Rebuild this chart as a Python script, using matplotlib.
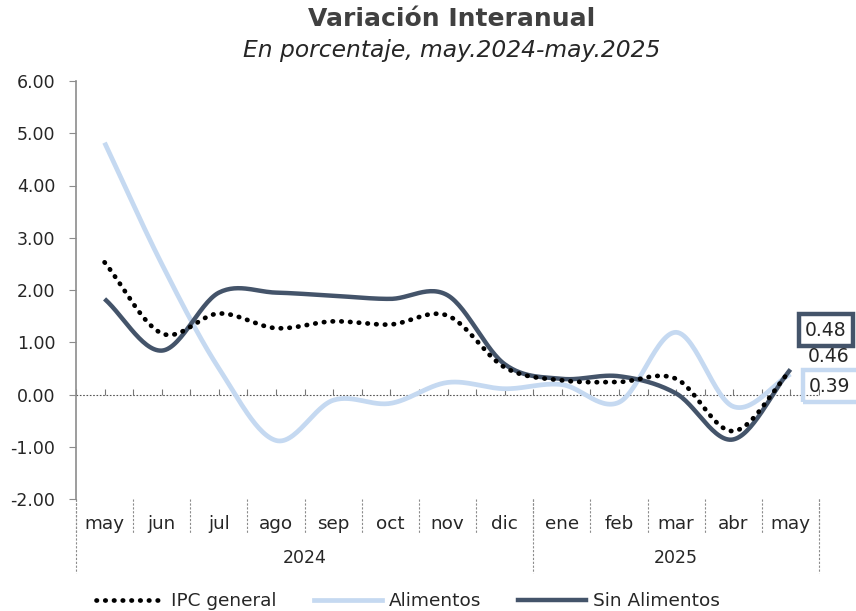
import numpy as np
import matplotlib
matplotlib.use("Agg")
import matplotlib.pyplot as plt
from matplotlib.lines import Line2D

plt.rcParams['font.family'] = ['DejaVu Sans']

# ─── data ──────────────────────────────────────────────────────────────────
months = ['may', 'jun', 'jul', 'ago', 'sep', 'oct', 'nov', 'dic',
          'ene', 'feb', 'mar', 'abr', 'may']
years = ['2024', '2025']
ipc = [2.53, 1.17, 1.55, 1.27, 1.40, 1.34, 1.51, 0.52, 0.27, 0.24, 0.30, -0.70, 0.46]
alimentos = [4.82, 2.50, 0.50, -0.88, -0.11, -0.17, 0.23, 0.11, 0.19, -0.15, 1.19, -0.23, 0.39]
sin_alimentos = [1.83, 0.84, 1.95, 1.95, 1.89, 1.83, 1.90, 0.58, 0.30, 0.35, 0.02, -0.86, 0.48]

DARK = '#44546A'
LIGHT = '#C5D9F1'
GRAY = '#8C8C8C'
TXT = '#262626'
W, H = 856, 611


def smooth(y, n=30):
    # Catmull-Rom curve through the points (like Excel's smoothed lines)
    y = np.asarray(y, float)
    x = np.arange(len(y), dtype=float)
    px = np.concatenate([[2 * x[0] - x[1]], x, [2 * x[-1] - x[-2]]])
    py = np.concatenate([[2 * y[0] - y[1]], y, [2 * y[-1] - y[-2]]])
    xs, ys = [], []
    t = np.linspace(0, 1, n, endpoint=False)
    for i in range(1, len(px) - 2):
        for arr, out in ((px, xs), (py, ys)):
            p0, p1, p2, p3 = arr[i - 1], arr[i], arr[i + 1], arr[i + 2]
            out.append(0.5 * ((2 * p1) + (-p0 + p2) * t
                              + (2 * p0 - 5 * p1 + 4 * p2 - p3) * t ** 2
                              + (-p0 + 3 * p1 - 3 * p2 + p3) * t ** 3))
    xs.append([x[-1]]); ys.append([y[-1]])
    return np.concatenate(xs), np.concatenate(ys)


fig = plt.figure(figsize=(W / 100, H / 100), dpi=100)
ax = fig.add_axes([76 / W, 1 - 499 / H, (819 - 76) / W, (499 - 81) / H])

x, y = smooth(alimentos)
ax.plot(x, y, color=LIGHT, lw=3.4, solid_capstyle='butt', zorder=2)
x, y = smooth(sin_alimentos)
ax.plot(x, y, color=DARK, lw=3.2, solid_capstyle='butt', zorder=3)
x, y = smooth(ipc)
ax.plot(x, y, color='black', lw=3.4, linestyle=(0, (0.1, 1.75)),
        dash_capstyle='round', zorder=4)

ax.set_xlim(-0.5, len(months) - 0.5)
ax.set_ylim(-2, 6)
ax.set_yticks(np.arange(-2, 7, 1))
ax.set_yticklabels([f'{v:.2f}' for v in np.arange(-2, 7, 1)], color=TXT)
ax.tick_params(axis='y', length=5, color=GRAY, labelsize=12.5, pad=10)
ax.set_xticks([])

for s in ['top', 'right', 'bottom']:
    ax.spines[s].set_visible(False)
ax.spines['left'].set_color(GRAY)
ax.spines['left'].set_linewidth(1.2)

# zero line with small ticks
ax.axhline(0, color='#555555', lw=0.8, linestyle=(0, (1.5, 1.5)), zorder=1)
tx = np.arange(-0.5, len(months), 0.5)
ax.plot(tx, np.zeros_like(tx), linestyle='none', marker=2, markersize=4,
        color='#777777', markeredgewidth=0.8, zorder=1)

# category axis: months, years and separators
tr = ax.get_xaxis_transform()
axh = 499 - 81
for i, m in enumerate(months):
    ax.text(i, -(524 - 499) / axh, m, transform=tr, ha='center', va='center',
            fontsize=13.2, color=TXT)
for b in np.arange(-0.5, len(months), 1.0):
    ax.plot([b, b], [0, -(533 - 499) / axh], transform=tr, color=GRAY,
            lw=0.8, linestyle=(0, (2, 1.5)), clip_on=False)
for b in [-0.5, 7.5, 12.5]:
    ax.plot([b, b], [0, -(573 - 499) / axh], transform=tr, color=GRAY,
            lw=0.8, linestyle=(0, (2, 1.5)), clip_on=False)
ax.text(3.5, -(558 - 499) / axh, years[0], transform=tr, ha='center',
        va='center', fontsize=12.5, color=TXT)
ax.text(10.0, -(558 - 499) / axh, years[1], transform=tr, ha='center',
        va='center', fontsize=12.5, color=TXT)

# end labels
fig.text(826 / W, 1 - 330 / H, f'{sin_alimentos[-1]:.2f}', ha='center',
         va='center', fontsize=13.5, color=TXT,
         bbox=dict(boxstyle='square,pad=0.35', fc='white', ec=DARK, lw=3.2))
fig.text(829 / W, 1 - 357 / H, f'{ipc[-1]:.2f}', ha='center', va='center',
         fontsize=13.5, color=TXT)
fig.text(830 / W, 1 - 386 / H, f'{alimentos[-1]:.2f}', ha='center',
         va='center', fontsize=13.5, color=TXT,
         bbox=dict(boxstyle='square,pad=0.35', fc='none', ec=LIGHT, lw=3.2))

# titles
fig.text(452 / W, 1 - 19 / H, 'Variación Interanual', ha='center',
         va='center', fontsize=18, fontweight='bold', color='#404040')
fig.text(452 / W, 1 - 50 / H, 'En porcentaje, may.2024-may.2025',
         ha='center', va='center', fontsize=16.8, style='italic',
         color=TXT)

handles = [
    Line2D([], [], color='black', lw=3.4, linestyle=(0, (0.1, 1.75)),
           dash_capstyle='round'),
    Line2D([], [], color=LIGHT, lw=3.4),
    Line2D([], [], color=DARK, lw=3.2),
]
fig.legend(handles, ['IPC general', 'Alimentos', 'Sin Alimentos'],
           loc='center', bbox_to_anchor=(408 / W, 1 - 601 / H), ncol=3,
           frameon=False, fontsize=13.3, handlelength=3.7, handletextpad=0.35,
           columnspacing=2.0, labelcolor=TXT)

fig.savefig('out.png', dpi=100)
